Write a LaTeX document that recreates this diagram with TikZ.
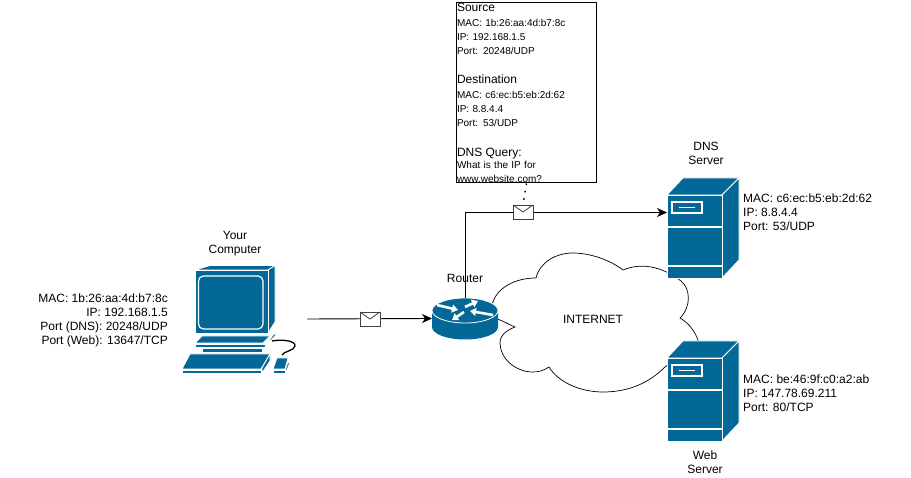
\documentclass[tikz,border=0pt]{standalone}
\usepackage{fontspec}
\setmainfont{Liberation Sans}
\usepackage{xcolor}
\usetikzlibrary{arrows.meta,positioning,calc}
\definecolor{iconblue}{HTML}{036897}

\newcommand{\bigtxt}{\fontsize{12}{14}\selectfont}
\newcommand{\smalltxt}{\fontsize{10}{14}\selectfont}

\begin{document}
\begin{tikzpicture}[
    x=1pt, y=-1pt,
    txt/.style={inner sep=0pt, align=left, font=\bigtxt},
    midtxt/.style={inner sep=0pt, align=center, font=\bigtxt},
    icon/.style={fill=iconblue, draw=white, line width=0.8pt, line join=round},
    whiteline/.style={draw=white, line width=1.2pt},
    arrow/.style={-{Stealth[length=10pt,width=9pt,inset=3pt]}, line width=0.9pt, draw=black},
    ghost/.style={inner sep=0pt, outer sep=0pt},
    mail/.style={draw=black!75, fill=white, line width=0.8pt, inner sep=0pt, minimum width=20pt, minimum height=14pt,
        path picture={\draw[black!75, line width=0.8pt] (path picture bounding box.north west) -- (path picture bounding box.center) -- (path picture bounding box.north east);}},
    packetbox/.style={draw=black, line width=1pt, inner sep=0.5pt, minimum width=140pt, minimum height=180pt, text width=139pt, align=left, font=\smalltxt},
    flow/.style={-{Triangle[length=6pt,width=8pt]}, white, line width=2.6pt},
    server/.pic={
        \path[icon] (0,0) -- (16,-17) -- (72,-17) -- (55,0) -- cycle;
        \path[icon] (55,0) -- (72,-17) -- (72,65) -- (55,83) -- cycle;
        \path[icon] (0,0) rectangle (55,83);
        \draw[whiteline] (0,32) -- (55,32);
        \draw[whiteline] (0,71) -- (55,71);
        \draw[whiteline] (5,7) rectangle (35,18);
        \draw[whiteline] (12,12.5) -- (28,12.5);
    }
]
\useasboundingbox (0,0) rectangle (911,478);

% Cloud
\draw[fill=white, line width=0.7pt, draw=black] (493,302) .. controls (498,287) and (516,278) .. (536,278)
    .. controls (540,262) and (556,253) .. (573,253) .. controls (590,253) and (610,260) .. (623,270)
    .. controls (640,263) and (660,265) .. (681,281) .. controls (690,288) and (692,306) .. (680,318)
    .. controls (690,324) and (695,332) .. (698,340) .. controls (700,355) and (680,355) .. (665,367)
    .. controls (650,382) and (630,392) .. (603,392) .. controls (580,392) and (558,382) .. (549,367)
    .. controls (543,371) and (538,372) .. (533,372) .. controls (515,372) and (500,358) .. (500,343)
    .. controls (500,335) and (507,330) .. (515,327) .. controls (510,325) and (505,322) .. (500,320)
    .. controls (490,318) and (488,310) .. cycle;
\node[midtxt] (internet) at (593,319) {INTERNET};

% Servers
\pic at (667,195) {server};
\pic at (667,358) {server};
\coordinate (dnsin) at (667,212.5);

% Router
\node[ghost, minimum width=66pt, minimum height=41pt] (router) at (465,318.5) {};
\path[icon, draw=none] (432,310.5) -- (432,327) arc[x radius=33, y radius=12.5, start angle=180, end angle=0] -- (498,310.5) -- cycle;
\path[icon] (465,310.5) ellipse[x radius=33, y radius=12.5];
\draw[flow] (437,305) -- (458,310);
\draw[flow] (493,315) -- (470,311);
\draw[flow] (465,307) -- (478,301);
\draw[flow] (464,312) -- (452,320);
\node[midtxt] (routerlabel) at (465,278) {Router};

% Computer
\path[icon] (195,270) -- (210,265.5) -- (275,265.5) -- (268,270) -- cycle;
\path[icon] (268,270) -- (275,265.5) -- (275,322) -- (268,333) -- cycle;
\path[icon] (195,270) rectangle (268,333);
\draw[whiteline, rounded corners=5pt] (198.5,276) rectangle (263,329);
\path[icon] (202,336) -- (270,336) -- (263,343) -- (195,343) -- cycle;
\path[icon] (195,344) rectangle (265,347);
\path[icon] (265,347) -- (275,332) -- (275,336) -- (265,347) -- cycle;
\path[icon] (202,348) rectangle (262,352);
\path[icon] (190,354) -- (270,354) -- (261,369) -- (182,369) -- cycle;
\path[icon] (182,370) rectangle (261,373);
\path[icon] (262,373) -- (270,361) -- (270,354) -- (262,368) -- cycle;
\path[icon] (277,358) -- (288,358) -- (285,369) -- (273,369) -- cycle;
\path[icon] (273,370.5) rectangle (285,373);
\path[icon] (285.5,373) -- (289,365) -- (289,359) -- (285.5,369) -- cycle;
\draw[draw=black, line width=1.3pt] (272,341) .. controls (283,339) and (296,341) .. (295,346) .. controls (294,351) and (284,351) .. (282,355);
\coordinate (pcout) at (307,319);

% Labels
\node[midtxt] (pclabel) at (235,243.5) {Your\\Computer};
\node[txt, anchor=east, align=right] (pcinfo) at (168,320) {MAC: 1b:26:aa:4d:b7:8c\\IP: 192.168.1.5\\Port (DNS): 20248/UDP\\Port (Web): 13647/TCP};
\node[midtxt] (dnslabel) at (706,153) {DNS\\Server};
\node[txt, anchor=west] (dnsinfo) at (743,212) {MAC: c6:ec:b5:eb:2d:62\\IP: 8.8.4.4\\Port: 53/UDP};
\node[midtxt] (weblabel) at (705,462) {Web\\Server};
\node[txt, anchor=west] (webinfo) at (743,393) {MAC: be:46:9f:c0:a2:ab\\IP: 147.78.69.211\\Port: 80/TCP};

% Packet box
\node[packetbox, anchor=north west] (packet) at (456,2.5) {{\bigtxt Source}\\[0.5pt]
MAC: 1b:26:aa:4d:b7:8c\\IP: 192.168.1.5\\Port: 20248/UDP\\[15pt]
{\bigtxt Destination}\\[1pt]
MAC: c6:ec:b5:eb:2d:62\\IP: 8.8.4.4\\Port: 53/UDP\\[16pt]
{\bigtxt DNS Query:}\\[-2pt]
What is the IP for\\www.website.com?};

% Arrows
\draw[arrow] (pcout) -- (router.west);
\draw[arrow] (router.north) |- (dnsin);
\node[mail] (mailone) at (370,319) {};
\node[mail] (mailtwo) at (523,212) {};
\draw[line width=1.5pt, dash pattern=on 1.5pt off 6pt] (packet.south) -- (mailtwo.north);

\end{tikzpicture}
\end{document}
